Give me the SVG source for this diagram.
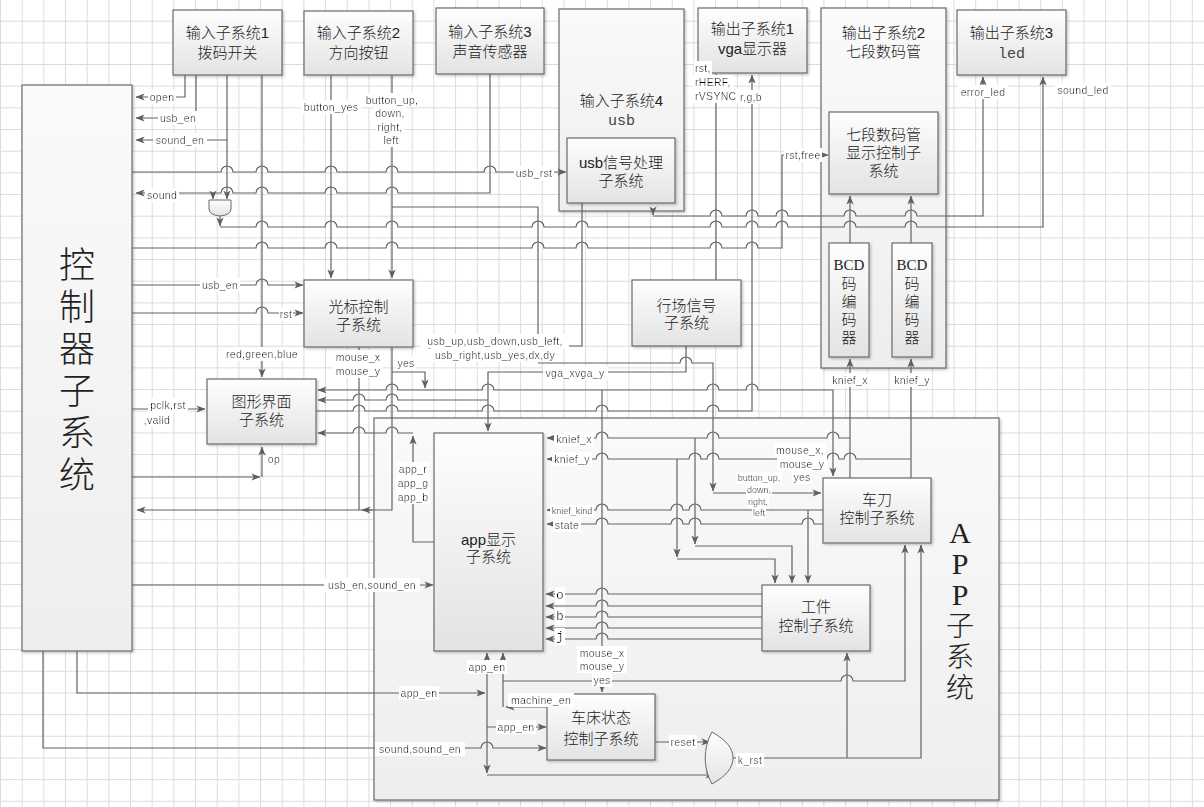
<svg xmlns="http://www.w3.org/2000/svg" width="1204" height="807" viewBox="0 0 1204 807">
<defs>
<pattern id="grid" width="21.67" height="21.67" patternUnits="userSpaceOnUse" x="0" y="-1"><path d="M0,0.5 H21.67 M0.5,0 V21.67" stroke="#dcdcdc" stroke-width="1" fill="none"/></pattern>
<linearGradient id="g" x1="0" y1="0" x2="0" y2="1"><stop offset="0" stop-color="#fefefe"/><stop offset="1" stop-color="#e3e3e3"/></linearGradient>
<linearGradient id="gc" x1="0" y1="0" x2="0" y2="1"><stop offset="0" stop-color="#fafafa"/><stop offset="1" stop-color="#eeeeee"/></linearGradient>
<filter id="sh" x="-10%" y="-10%" width="130%" height="130%"><feDropShadow dx="1.5" dy="1.5" stdDeviation="1" flood-color="#000" flood-opacity="0.22"/></filter>
<filter id="bg" x="-0.04" y="-0.02" width="1.08" height="1.04"><feFlood flood-color="#ffffff"/><feComposite in="SourceGraphic"/></filter>
<marker id="a" viewBox="0 0 10 8" refX="9.5" refY="4" markerWidth="9" markerHeight="7.5" markerUnits="userSpaceOnUse" orient="auto"><path d="M0,0 L10,4 L0,8 L2.5,4 z" fill="#5f5f5f"/></marker>
<style>
.w{fill:none;stroke:#636363;stroke-width:1.2}
.a{marker-end:url(#a)}
.l{font-family:"Liberation Sans",Arial,sans-serif;font-size:10.5px;fill:#000;text-anchor:middle;letter-spacing:0.3px;filter:url(#bg)}
.s{font-size:9px;letter-spacing:0}
.m{font-family:"Liberation Mono",monospace;font-size:13px}
.box{fill:url(#g);stroke:#6a6a6a;stroke-width:1.2;filter:url(#sh)}
.cont{fill:url(#gc);stroke:#6a6a6a;stroke-width:1.2;filter:url(#sh)}
.t{font-family:"Liberation Sans","Noto Sans CJK SC",sans-serif;font-size:15px;font-weight:300;fill:#222;text-anchor:middle}
.mono{font-family:"Liberation Mono","Noto Sans CJK SC",monospace;fill:#444;font-weight:normal}
.ser{font-family:"Liberation Serif","Noto Sans CJK SC",serif}
.big{font-family:"Liberation Serif","Noto Sans CJK SC",serif;font-weight:300;fill:#222;text-anchor:middle}
</style>
</defs>
<rect width="1204" height="807" fill="#ffffff"/>
<rect width="1204" height="807" fill="url(#grid)"/>

<g id="app-subsystem">
<rect class="cont" x="374" y="418" width="625" height="382"/>
<text class="big" font-size="30" x="960" y="543">A</text>
<text class="big" font-size="30" x="960" y="574">P</text>
<text class="big" font-size="30" x="960" y="605">P</text>
<text class="big" font-size="28" x="960" y="636">子</text>
<text class="big" font-size="28" x="960" y="667">系</text>
<text class="big" font-size="28" x="960" y="698">统</text>
</g>
<g id="input4-usb">
<rect class="cont" x="559" y="9" width="125" height="202"/>
<text class="t" x="621.5" y="106">输入子系统4</text>
<text class="t mono" x="621.5" y="125">usb</text>
</g>
<g id="output2-seg">
<rect class="cont" x="821" y="8" width="125" height="360"/>
<text class="t" x="883.5" y="38">输出子系统2</text>
<text class="t" x="883.5" y="57">七段数码管</text>
</g>
<g id="controller">
<rect class="cont" x="22" y="85" width="110" height="566"/>
<text class="big" font-size="36" x="77" y="278">控</text>
<text class="big" font-size="36" x="77" y="320">制</text>
<text class="big" font-size="36" x="77" y="362">器</text>
<text class="big" font-size="36" x="77" y="404">子</text>
<text class="big" font-size="36" x="77" y="446">系</text>
<text class="big" font-size="36" x="77" y="488">统</text>
</g>

<g id="connectors">
<path class="w a" d="M185,75 V97 H136"/>
<path class="w a" d="M196,75 V118 H136"/>
<path class="w a" d="M227,75 V140 H136"/>
<path class="w a" d="M227,140 V199"/>
<path class="w a" d="M262,75 V377"/>
<path class="w a" d="M331,75 V278"/>
<path class="w a" d="M392,75 V278"/>
<path class="w a" d="M392,207 H538 V361"/>
<path class="w a" d="M538,363 H680 a6,6 0 0 1 12,0 H713 V491"/>
<path class="w a" d="M713,493 H821"/>
<path class="w a" d="M490,74 V193 H398 a6,6 0 0 0 -12,0 H337 a6,6 0 0 0 -12,0 H268 a6,6 0 0 0 -12,0 H233 a6,6 0 0 0 -12,0 H136"/>
<path class="w a" d="M213,193 V199"/>
<path class="w a" d="M132,172 H221 a6,6 0 0 1 12,0 H256 a6,6 0 0 1 12,0 H325 a6,6 0 0 1 12,0 H386 a6,6 0 0 1 12,0 H484 a6,6 0 0 1 12,0 H566"/>
<path class="w a" d="M220,216 V226"/>
<path class="w a" d="M220,227 H256 a6,6 0 0 1 12,0 H325 a6,6 0 0 1 12,0 H386 a6,6 0 0 1 12,0 H532 a6,6 0 0 1 12,0 H576 a6,6 0 0 1 12,0 H710 a6,6 0 0 1 12,0 H746 a6,6 0 0 1 12,0 H776 a6,6 0 0 1 12,0 H844 a6,6 0 0 1 12,0 H905 a6,6 0 0 1 12,0 H1043 V77"/>
<path class="w a" d="M653,211 V215"/>
<path class="w a" d="M653,216 H710 a6,6 0 0 1 12,0 H746 a6,6 0 0 1 12,0 H776 a6,6 0 0 1 12,0 H844 a6,6 0 0 1 12,0 H905 a6,6 0 0 1 12,0 H983 V77"/>
<path class="w a" d="M132,248 H256 a6,6 0 0 1 12,0 H325 a6,6 0 0 1 12,0 H386 a6,6 0 0 1 12,0 H532 a6,6 0 0 1 12,0 H576 a6,6 0 0 1 12,0 H710 a6,6 0 0 1 12,0 H746 a6,6 0 0 1 12,0 H782 V155 H828"/>
<path class="w a" d="M582,203 V346 H423"/>
<path class="w" d="M716,280 V74"/>
<path class="w a" d="M316,411 H353 a6,6 0 0 1 12,0 H386 a6,6 0 0 1 12,0 H482 a6,6 0 0 1 12,0 H596 a6,6 0 0 1 12,0 H707 a6,6 0 0 1 12,0 H752 V75"/>
<path class="w a" d="M850,478 V359"/>
<path class="w a" d="M850,243 V196"/>
<path class="w a" d="M911,478 V359"/>
<path class="w a" d="M911,243 V196"/>
<path class="w a" d="M132,285 H256 a6,6 0 0 1 12,0 H303"/>
<path class="w a" d="M132,313 H256 a6,6 0 0 1 12,0 H303"/>
<path class="w" d="M359,347 V510"/>
<path class="w a" d="M392,347 V510 H137"/>
<path class="w a" d="M372,510 H362"/>
<path class="w a" d="M392,372 H425 V388"/>
<path class="w a" d="M686,346 V372 H488 V431"/>
<path class="w a" d="M488,400 H398 a6,6 0 0 0 -12,0 H365 a6,6 0 0 0 -12,0 H318"/>
<path class="w a" d="M602,390 H494 a6,6 0 0 0 -12,0 H398 a6,6 0 0 0 -12,0 H318"/>
<path class="w a" d="M602,390 H707 a6,6 0 0 1 12,0 H746 a6,6 0 0 1 12,0 H833 V476"/>
<path class="w a" d="M602,390 V692"/>
<path class="w a" d="M434,542 H413 V436"/>
<path class="w a" d="M413,433 H398 a6,6 0 0 0 -12,0 H365 a6,6 0 0 0 -12,0 H318"/>
<path class="w a" d="M132,477 H260"/>
<path class="w a" d="M262,477 V447"/>
<path class="w a" d="M132,409 H205"/>
<path class="w a" d="M850,438 H839 a6,6 0 0 0 -12,0 H719 a6,6 0 0 0 -12,0 H608 a6,6 0 0 0 -12,0 H547"/>
<path class="w a" d="M695,438 V544"/>
<path class="w a" d="M695,546 H792 V583"/>
<path class="w a" d="M911,459 H856 a6,6 0 0 0 -12,0 H839 a6,6 0 0 0 -12,0 H719 a6,6 0 0 0 -12,0 H701 a6,6 0 0 0 -12,0 H608 a6,6 0 0 0 -12,0 H547"/>
<path class="w a" d="M677,459 V557"/>
<path class="w a" d="M677,559 H775 V583"/>
<path class="w a" d="M823,510 H701 a6,6 0 0 0 -12,0 H683 a6,6 0 0 0 -12,0 H608 a6,6 0 0 0 -12,0 H547"/>
<path class="w a" d="M808,510 V583"/>
<path class="w a" d="M823,524 H814 a6,6 0 0 0 -12,0 H701 a6,6 0 0 0 -12,0 H683 a6,6 0 0 0 -12,0 H608 a6,6 0 0 0 -12,0 H547"/>
<path class="w a" d="M762,594 H608 a6,6 0 0 0 -12,0 H546"/>
<path class="w a" d="M762,606 H608 a6,6 0 0 0 -12,0 H546"/>
<path class="w a" d="M762,617 H608 a6,6 0 0 0 -12,0 H546"/>
<path class="w a" d="M762,628 H608 a6,6 0 0 0 -12,0 H546"/>
<path class="w a" d="M762,639 H608 a6,6 0 0 0 -12,0 H546"/>
<path class="w a" d="M132,585 H433"/>
<path class="w a" d="M547,707 H506"/>
<path class="w a" d="M503,707 V653"/>
<path class="w a" d="M503,681 H596 a6,6 0 0 1 12,0 H841 a6,6 0 0 1 12,0 H905 V545"/>
<path class="w a" d="M77,651 V693 H485"/>
<path class="w a" d="M487,693 V653"/>
<path class="w a" d="M487,693 V773"/>
<path class="w a" d="M487,775 H714"/>
<path class="w a" d="M487,727 H546"/>
<path class="w a" d="M43,651 V748 H481 a6,6 0 0 1 12,0 H546"/>
<path class="w a" d="M655,742 H710"/>
<path class="w a" d="M733,758 H921 V545"/>
<path class="w a" d="M847,758 V653"/>
</g>

<g id="and-gate"><path d="M209,200 H231 V209 Q231,215 220,216 Q209,215 209,209 Z" fill="url(#g)" stroke="#6a6a6a" stroke-width="1"/></g>
<g id="or-gate"><path d="M712,732 C703,748 703,768 712,784 C726,776 733,768 733,758 C733,748 726,740 712,732 Z" fill="url(#g)" stroke="#6a6a6a" stroke-width="1"/></g>

<g id="input1"><rect class="box" x="173" y="10" width="109" height="65"/><text class="t" x="227.5" y="38">输入子系统1</text><text class="t" x="227.5" y="58">拨码开关</text></g>
<g id="input2"><rect class="box" x="304" y="11" width="109" height="64"/><text class="t" x="358.5" y="38">输入子系统2</text><text class="t" x="358.5" y="58">方向按钮</text></g>
<g id="input3"><rect class="box" x="436" y="8" width="108" height="66"/><text class="t" x="490" y="37">输入子系统3</text><text class="t" x="490" y="57">声音传感器</text></g>
<g id="usb-proc"><rect class="box" x="567" y="138" width="108" height="65"/><text class="t" x="621" y="168">usb信号处理</text><text class="t" x="621" y="186">子系统</text></g>
<g id="output1"><rect class="box" x="698" y="8" width="109" height="65"/><text class="t" x="752.5" y="34">输出子系统1</text><text class="t" x="752.5" y="54">vga显示器</text></g>
<g id="seg-ctrl"><rect class="box" x="829" y="112" width="109" height="82"/><text class="t" x="883.5" y="140">七段数码管</text><text class="t" x="883.5" y="158">显示控制子</text><text class="t" x="883.5" y="176">系统</text></g>
<g id="bcd1"><rect class="box" x="829" y="243" width="40" height="114"/><text class="t ser" x="849" y="270">BCD</text><text class="t" x="849" y="289">码</text><text class="t" x="849" y="307">编</text><text class="t" x="849" y="325">码</text><text class="t" x="849" y="343">器</text></g>
<g id="bcd2"><rect class="box" x="892" y="243" width="40" height="114"/><text class="t ser" x="912" y="270">BCD</text><text class="t" x="912" y="289">码</text><text class="t" x="912" y="307">编</text><text class="t" x="912" y="325">码</text><text class="t" x="912" y="343">器</text></g>
<g id="output3"><rect class="box" x="957" y="10" width="109" height="65"/><text class="t" x="1011.5" y="38">输出子系统3</text><text class="t mono" x="1011.5" y="58">led</text></g>
<g id="cursor"><rect class="box" x="304" y="280" width="109" height="67"/><text class="t" x="358.5" y="312">光标控制</text><text class="t" x="358.5" y="330">子系统</text></g>
<g id="gui"><rect class="box" x="207" y="379" width="109" height="65"/><text class="t" x="261.5" y="407">图形界面</text><text class="t" x="261.5" y="425">子系统</text></g>
<g id="sync"><rect class="box" x="632" y="280" width="109" height="66"/><text class="t" x="686.5" y="311">行场信号</text><text class="t" x="686.5" y="328">子系统</text></g>
<g id="app-display"><rect class="box" x="434" y="433" width="109" height="218"/><text class="t" x="488.5" y="545">app显示</text><text class="t" x="488.5" y="562">子系统</text></g>
<g id="knife"><rect class="box" x="823" y="478" width="108" height="65"/><text class="t" x="877" y="505">车刀</text><text class="t" x="877" y="523">控制子系统</text></g>
<g id="workpiece"><rect class="box" x="762" y="585" width="108" height="66"/><text class="t" x="816" y="612">工件</text><text class="t" x="816" y="631">控制子系统</text></g>
<g id="lathe"><rect class="box" x="547" y="694" width="108" height="66"/><text class="t" x="601" y="723">车床状态</text><text class="t" x="601" y="744">控制子系统</text></g>

<g id="connector-labels">
<text class="l" x="162" y="101">open</text>
<text class="l" x="178" y="122">usb_en</text>
<text class="l" x="180" y="144">sound_en</text>
<text class="l" x="162" y="199">sound</text>
<text class="l" x="534" y="177">usb_rst</text>
<text class="l" x="331" y="111">button_yes</text>
<text class="l" x="392" y="104">button_up,</text>
<text class="l" x="390" y="117">down,</text>
<text class="l" x="390" y="131">right,</text>
<text class="l" x="391" y="144">left</text>
<text class="l" x="695" y="72" style="text-anchor:start">rst,</text>
<text class="l" x="695" y="86" style="text-anchor:start">rHERF,</text>
<text class="l" x="695" y="100" style="text-anchor:start">rVSYNC</text>
<text class="l" x="751" y="101">r,g,b</text>
<text class="l" x="803" y="159">rst,free</text>
<text class="l" x="983" y="96">error_led</text>
<text class="l" x="1083" y="94">sound_led</text>
<text class="l" x="220" y="289">usb_en</text>
<text class="l" x="286" y="318">rst</text>
<text class="l" x="262" y="358">red,green,blue</text>
<text class="l" x="358" y="361">mouse_x</text>
<text class="l" x="358" y="375">mouse_y</text>
<text class="l" x="406" y="367">yes</text>
<text class="l" x="495" y="345">usb_up,usb_down,usb_left,</text>
<text class="l" x="495" y="359">usb_right,usb_yes,dx,dy</text>
<text class="l" x="575" y="377">vga_xvga_y</text>
<text class="l" x="850" y="384">knief_x</text>
<text class="l" x="912" y="384">knief_y</text>
<text class="l" x="168" y="409">pclk,rst</text>
<text class="l" x="157" y="424">,valid</text>
<text class="l" x="274" y="463">op</text>
<text class="l" x="413" y="473">app_r</text>
<text class="l" x="413" y="487">app_g</text>
<text class="l" x="413" y="501">app_b</text>
<text class="l" x="574" y="443">knief_x</text>
<text class="l" x="572" y="463">knief_y</text>
<text class="l" x="800" y="454">mouse_x,</text>
<text class="l" x="802" y="468">mouse_y</text>
<text class="l" x="802" y="481">yes</text>
<text class="l s" x="759" y="481">button_up,</text>
<text class="l s" x="759" y="493">down,</text>
<text class="l s" x="758" y="505">right,</text>
<text class="l s" x="759" y="516">left</text>
<text class="l s" x="572" y="514">knief_kind</text>
<text class="l" x="567" y="529">state</text>
<text class="l m" x="560" y="599">o</text>
<text class="l m" x="560" y="620">b</text>
<text class="l m" x="560" y="640">j</text>
<text class="l" x="372" y="589">usb_en,sound_en</text>
<text class="l" x="487" y="671">app_en</text>
<text class="l" x="602" y="657">mouse_x</text>
<text class="l" x="602" y="670">mouse_y</text>
<text class="l" x="602" y="684">yes</text>
<text class="l" x="419" y="697">app_en</text>
<text class="l" x="541" y="704">machine_en</text>
<text class="l" x="516" y="731">app_en</text>
<text class="l" x="420" y="753">sound,sound_en</text>
<text class="l" x="683" y="746">reset</text>
<text class="l" x="750" y="764">k_rst</text>
</g>
</svg>
